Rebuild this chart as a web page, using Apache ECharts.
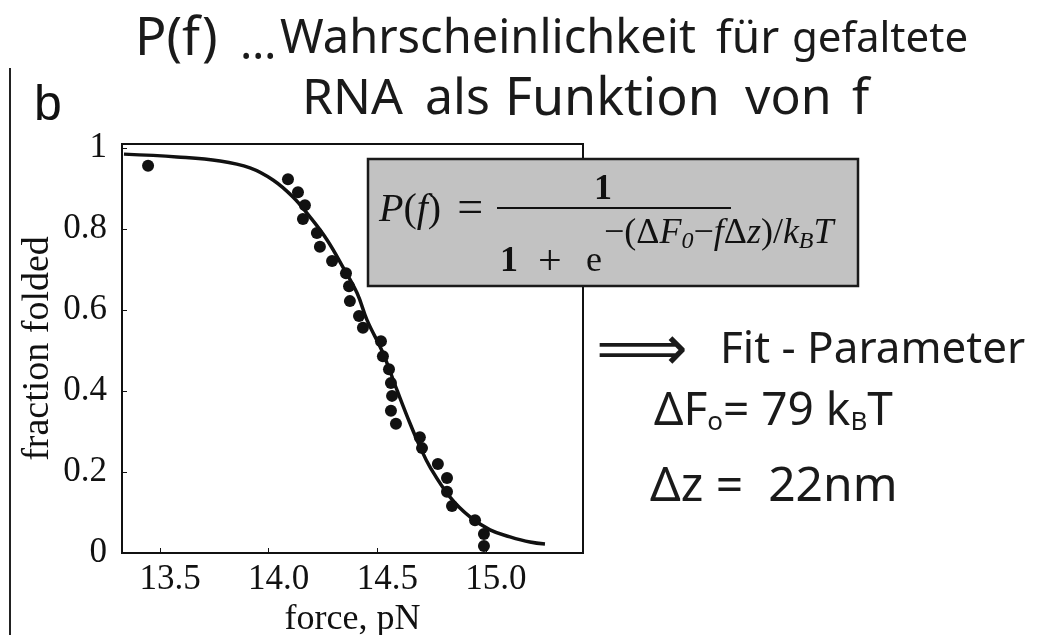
<!DOCTYPE html>
<html>
<head>
<meta charset="utf-8">
<script src="https://cdn.jsdelivr.net/npm/echarts@6/dist/echarts.min.js"></script>
<style>
  html, body { margin: 0; padding: 0; background: #fff; }
  #chart { width: 1053px; height: 635px; }
</style>
</head>
<body>
<div id="chart"></div>
<script>
// measured points (force in pN, fraction folded)
const forceData = [13.445, 14.089, 14.135, 14.167, 14.158, 14.222, 14.236, 14.292, 14.356, 14.370,
  14.374, 14.416, 14.434, 14.517, 14.526, 14.554, 14.563, 14.568, 14.563, 14.586,
  14.696, 14.706, 14.779, 14.821, 14.821, 14.844, 14.950, 14.991, 14.991]
const foldedData = [0.956, 0.923, 0.891, 0.859, 0.825, 0.790, 0.756, 0.721, 0.691, 0.659,
  0.622, 0.585, 0.556, 0.523, 0.486, 0.454, 0.420, 0.388, 0.351, 0.319,
  0.286, 0.259, 0.220, 0.185, 0.151, 0.116, 0.081, 0.047, 0.017]

// fit curve
const fitForce = [13.334, 13.578, 13.776, 13.914, 14.020, 14.112, 14.190, 14.269, 14.342, 14.407,
  14.453, 14.526, 14.591, 14.650, 14.697, 14.743, 14.835, 14.927, 15.019, 15.111, 15.203, 15.272]
const fitFolded = [0.985, 0.978, 0.968, 0.951, 0.921, 0.879, 0.830, 0.773, 0.706, 0.642,
  0.575, 0.494, 0.402, 0.321, 0.262, 0.212, 0.138, 0.089, 0.057, 0.040, 0.027, 0.022]

const xTicks = [13.5, 14.0, 14.5, 15.0]
const yTicks = [0, 0.2, 0.4, 0.6, 0.8, 1]

const chart = echarts.init(document.getElementById('chart'))

const serif = 'Liberation Serif'
const hand = 'Noto Sans'
const ink = '#1a1a1a'

// handwritten words
const handText = (x, y, text, size) => ({
  type: 'text', x, y, z: 100,
  style: { text, font: `${size}px "${hand}"`, fill: ink, verticalAlign: 'middle' },
})
// formula pieces
const mathText = (x, y, text, font, align) => ({
  type: 'text', x, y, z: 101,
  style: { text, font, fill: '#111', verticalAlign: 'middle', align: align || 'left' },
})

const option = {
  animation: false,
  backgroundColor: '#fff',
  grid: {
    left: 122, right: 470, top: 144, bottom: 82,
    show: true, borderColor: '#111', borderWidth: 2,
    outerBoundsMode: 'none',
  },
  xAxis: {
    type: 'value',
    min: 13.325,
    max: 15.447,
    name: 'force, pN',
    nameLocation: 'middle',
    nameGap: 27,
    nameTextStyle: { fontFamily: serif, fontSize: 36, color: '#111' },
    axisLine: { lineStyle: { color: '#111', width: 2 } },
    axisTick: { inside: true, length: 5, customValues: xTicks, lineStyle: { color: '#111' } },
    axisLabel: {
      customValues: xTicks,
      formatter: v => v.toFixed(1),
      fontFamily: serif, fontSize: 35, color: '#111', margin: 9,
      padding: [0, 0, 0, 20],
    },
    splitLine: { show: false },
  },
  yAxis: {
    type: 'value',
    min: 0,
    max: 1.01,
    name: 'fraction folded',
    nameLocation: 'middle',
    nameGap: 65,
    nameTextStyle: { fontFamily: serif, fontSize: 38, color: '#111' },
    axisLine: { lineStyle: { color: '#111', width: 2 } },
    axisTick: { inside: true, length: 5, customValues: yTicks, lineStyle: { color: '#111' } },
    axisLabel: {
      customValues: yTicks,
      formatter: v => (v === 0 || v === 1) ? String(v) : v.toFixed(1),
      fontFamily: serif, fontSize: 35, color: '#111', margin: 15,
    },
    splitLine: { show: false },
  },
  series: [
    {
      name: 'fit',
      type: 'line',
      data: fitForce.map((f, i) => [f, fitFolded[i]]),
      smooth: 0.4,
      showSymbol: false,
      lineStyle: { color: '#111', width: 3.5 },
      z: 2,
    },
    {
      name: 'data',
      type: 'scatter',
      data: forceData.map((f, i) => [f, foldedData[i]]),
      symbolSize: 12,
      itemStyle: { color: '#111', opacity: 1 },
      z: 3,
    },
  ],
  graphic: [
    // page edge and panel letter
    { type: 'line', z: 100, shape: { x1: 10, y1: 68, x2: 10, y2: 635 }, style: { stroke: '#222', lineWidth: 2 } },
    { type: 'text', z: 100, x: 34, y: 106, style: { text: 'b', font: '50px "Liberation Sans"', fill: '#111', verticalAlign: 'middle' } },

    // handwritten notes
    handText(135, 40, 'P(f)', 52),
    handText(240, 46, '…', 46),
    handText(280, 40, 'Wahrscheinlichkeit', 47),
    handText(716, 40, 'für', 46),
    handText(792, 40, 'gefaltete', 42),
    handText(302, 100, 'RNA', 50),
    handText(425, 100, 'als', 50),
    handText(505, 100, 'Funktion', 52),
    handText(745, 100, 'von', 50),
    handText(852, 100, 'f', 50),
    handText(596, 352, '⟹', 64),
    handText(720, 350, 'Fit - Parameter', 44),
    {
      type: 'text', z: 100, x: 654, y: 412,
      style: {
        text: '{a|ΔF}{s|o}{a|= 79 k}{s|B}{a|T}',
        verticalAlign: 'middle',
        rich: {
          a: { font: `46px "${hand}"`, fill: ink },
          s: { font: `26px "${hand}"`, fill: ink, padding: [22, 0, 0, 0] },
        },
      },
    },
    handText(650, 487, 'Δz =  22nm', 48),

    // formula box
    {
      type: 'rect', z: 100,
      shape: { x: 368, y: 159, width: 490, height: 127 },
      style: { fill: '#c2c2c2', stroke: '#1a1a1a', lineWidth: 2.5 },
    },
    {
      type: 'text', z: 101, x: 379, y: 210,
      style: {
        text: '{i|P}{n|(}{i|f}{n|)}{e|=}',
        verticalAlign: 'middle',
        rich: {
          i: { font: `italic 40px "${serif}"`, fill: '#111' },
          n: { font: `40px "${serif}"`, fill: '#111' },
          e: { font: `46px "${serif}"`, fill: '#111', padding: [0, 0, 0, 16] },
        },
      },
    },
    { type: 'line', z: 101, shape: { x1: 497, y1: 208, x2: 731, y2: 208 }, style: { stroke: '#111', lineWidth: 2 } },
    mathText(603, 190, '1', `bold 36px "${serif}"`, 'center'),
    mathText(500, 262, '1', `bold 36px "${serif}"`),
    mathText(538, 263, '+', `42px "${serif}"`),
    mathText(586, 262, 'e', `36px "${serif}"`),
    {
      type: 'text', z: 101, x: 604, y: 234,
      style: {
        text: '{n|−(Δ}{i|F}{s|0}{n|−}{i|f}{n|Δ}{i|z}{n|)/}{i|k}{s|B}{i|T}',
        verticalAlign: 'middle',
        rich: {
          i: { font: `italic 36px "${serif}"`, fill: '#111' },
          n: { font: `36px "${serif}"`, fill: '#111' },
          s: { font: `italic 24px "${serif}"`, fill: '#111', padding: [15, 0, 0, 0] },
        },
      },
    },
  ],
}

chart.setOption(option)
window.addEventListener('resize', () => chart.resize())
</script>
</body>
</html>
